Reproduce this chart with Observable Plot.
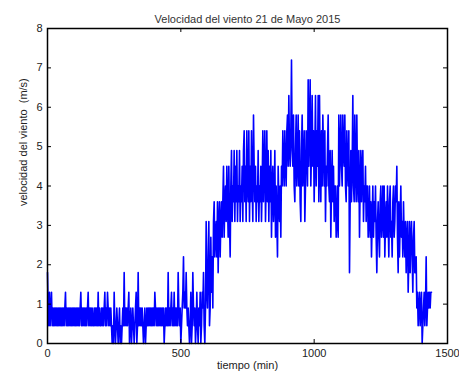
<!DOCTYPE html>
<html><head><meta charset="utf-8">
<script src="https://cdn.jsdelivr.net/npm/d3@7"></script>
<script src="https://cdn.jsdelivr.net/npm/@observablehq/plot@0.6"></script>
<style>body{margin:0;background:#fff;} svg{display:block;}</style>
</head><body><div id="chart"></div>
<script>
const title = "Velocidad del viento 21 de Mayo 2015";
const xLabel = "tiempo (min)";
const yLabel = "velocidad del viento  (m/s)";
const xTicks = [0, 500, 1000, 1500];
const yTicks = [0, 1, 2, 3, 4, 5, 6, 7, 8];
const sampleStepMin = 2.5;
// wind speed (m/s), one reading every 2.5 minutes, rows = hours 0..23
const speed = [
  1.8,0.9,0.45,1.3,0.45,0.9,1.3,0.45,0.9,0.45,0.9,0.45,0.9,0.45,0.9,0.45,0.9,0.45,0.9,0.45,0.9,0.45,0.9,0.45,
  0.9,0.45,0.9,1.3,0.45,0.9,0.45,0.9,0.45,0.9,0.45,0.9,0.45,0.9,0.45,0.9,0.45,0.9,0.45,0.9,0.45,0.9,0.45,0.9,
  0.45,0.9,1.3,0.45,0.9,0.45,0.9,0.45,0.9,0.45,0.9,0.45,0.9,1.3,0.45,0.9,0.45,0.9,0.45,0.9,0.45,0.45,0.9,0.45,
  0.9,0.45,0.9,0.45,1.3,0.45,0.9,0.45,0.45,0.9,0.45,0.9,0.45,0.9,1.3,0.45,0.9,0.45,1.3,0.9,0.45,0.9,0.45,0.9,
  0.45,0,0.45,0,1.3,0.45,0,0.45,0.9,0.45,0,0.45,0.9,0,0.45,0,0.45,0.9,0.45,1.8,0.45,0.9,0.45,0.9,
  0.45,0.9,1.3,0,0.45,0.9,0,0.45,0.9,0.45,0,0.45,0.9,1.3,0,0.45,1.8,0.45,0.9,0.45,0.9,0.45,0.9,0.45,
  0,0.45,0.9,0,0.45,0.9,0.45,0.9,0.45,0.9,0.45,0.9,0.45,0.9,0.45,0.9,0.45,1.3,0.9,0.45,0.9,0.45,0.9,0.45,
  0.9,0.45,0.9,0.45,0.9,0.45,0.9,0,0.45,0.9,0.45,0.9,0.45,1.8,0.45,0.9,0.45,0.9,1.3,0.45,0.9,0.45,1.3,0.45,
  0.9,0.45,0.9,0.45,1.8,0.9,0.45,0.9,0,0.45,0.9,1.3,2.2,0.9,1.3,0.9,1.8,0.9,0.45,0.9,0.45,0,0.45,1.3,
  0,0.45,1.8,0.9,0.45,0.9,0,0.45,1.3,0.45,0,0.9,0.45,1.3,0,0.45,1.3,0.9,1.8,0.45,0,0.9,3.1,1.3,
  0.9,2.2,3.1,0.45,0.9,2.7,1.3,2.2,0.9,3.1,3.6,2.2,2.7,3.1,2.2,3.6,1.8,3.1,3.6,2.2,3.1,3.6,2.7,3.6,
  4.5,2.7,3.6,4.0,3.1,4.5,3.6,2.7,4.5,3.1,2.2,4.0,4.9,3.1,4.0,3.6,4.9,3.1,4.5,3.6,4.9,3.1,4.0,3.6,
  4.9,3.1,4.0,3.6,4.5,3.1,4.9,5.4,3.6,4.5,3.1,5.4,4.0,3.6,5.4,3.1,4.5,3.6,5.4,4.0,3.1,5.8,4.5,3.6,
  4.5,3.1,4.0,3.6,4.9,3.1,4.0,3.6,4.5,3.1,4.0,5.4,3.6,4.5,5.4,3.1,4.0,5.4,3.6,4.9,3.1,4.5,3.6,4.9,
  2.7,4.0,4.5,3.1,3.6,4.9,2.7,4.0,3.1,2.2,4.5,3.6,3.1,4.0,2.7,4.5,4.0,5.4,4.5,4.0,5.4,4.5,4.0,5.4,
  5.8,4.5,6.3,4.9,4.5,5.4,7.2,4.9,4.5,5.8,4.0,3.6,4.9,5.8,4.0,4.5,5.8,4.0,5.4,3.6,3.1,4.9,5.8,4.0,
  4.5,5.4,3.1,4.0,5.4,4.9,4.0,6.7,4.5,5.4,6.7,4.0,4.9,6.3,4.5,5.4,3.6,4.9,6.3,4.0,5.4,4.5,6.3,3.6,
  6.3,4.5,3.6,5.4,4.0,5.8,4.9,4.0,5.4,3.1,4.5,4.0,4.9,5.8,4.0,3.6,4.9,2.7,4.0,4.9,3.6,4.5,3.1,4.0,
  4.0,2.7,3.1,4.0,2.7,5.8,4.0,4.9,5.8,4.5,4.0,5.8,4.9,4.5,5.8,4.0,3.6,5.4,4.5,4.0,5.4,1.8,3.6,4.9,
  3.6,4.5,6.3,4.0,3.6,5.8,4.5,3.6,5.8,4.0,3.6,4.9,2.7,4.0,4.9,3.6,4.5,4.9,3.1,4.0,3.6,4.5,3.1,4.0,
  4.0,2.7,3.1,4.0,2.7,3.6,2.2,3.1,4.0,2.7,3.6,3.1,4.0,2.7,1.8,3.1,3.6,2.7,2.2,3.6,4.0,2.7,3.1,4.0,
  2.7,4.0,2.2,3.1,3.6,2.7,4.0,3.1,2.2,3.6,4.0,2.7,3.1,2.2,3.6,4.0,2.7,3.1,4.0,3.6,4.5,2.7,1.8,3.6,
  2.2,3.1,4.0,2.7,3.1,2.2,3.6,2.7,2.2,3.1,1.8,2.7,3.1,1.3,2.2,3.1,1.8,2.7,3.1,2.2,1.3,2.7,3.1,1.8,
  1.8,2.2,0.9,1.3,0.45,0.9,1.3,0.45,0.9,1.3,0,0.45,0.9,1.3,0.45,0.9,2.2,0.45,0.9,1.3,0.9,1.3,0.9,1.3,
  1.3
];
const data = speed.map((v, i) => ({t: i * sampleStepMin, v}));

const W = 459, H = 375, mL = 47, mR = 12, mT = 28, mB = 32;
const fw = W - mL - mR, fh = H - mT - mB;
const tickLen = 4;
const font = "'Liberation Sans', Arial, sans-serif";

const plot = Plot.plot({
  width: W, height: H,
  marginLeft: mL, marginRight: mR, marginTop: mT, marginBottom: mB,
  style: {fontFamily: font, fontSize: "11px", color: "#222", background: "#fff"},
  x: {domain: [0, 1500], ticks: xTicks},
  y: {domain: [0, 8], ticks: yTicks},
  marks: [
    Plot.line(data, {x: "t", y: "v", stroke: "#0000ff", strokeWidth: 1.6}),
    Plot.tickX(xTicks, {x: d => d, insetTop: fh - tickLen, stroke: "#000"}),
    Plot.tickX(xTicks, {x: d => d, insetBottom: fh - tickLen, stroke: "#000"}),
    Plot.tickY(yTicks, {y: d => d, insetRight: fw - tickLen, stroke: "#000"}),
    Plot.tickY(yTicks, {y: d => d, insetLeft: fw - tickLen, stroke: "#000"}),
    Plot.frame({stroke: "#000", strokeWidth: 1.5}),
    Plot.axisX(xTicks, {tickSize: 0, tickPadding: 6, tickFormat: "d", label: null}),
    Plot.axisY(yTicks, {tickSize: 0, tickPadding: 5, tickFormat: "d", label: null}),
    Plot.text([title], {frameAnchor: "top", dy: -13, fontSize: 11, fill: "#333"}),
    Plot.text([xLabel], {frameAnchor: "bottom", dy: 25, fontSize: 11, fill: "#222"}),
    Plot.text([yLabel], {frameAnchor: "left", dx: -24, dy: 20, rotate: -90, fontSize: 11, fill: "#222"})
  ]
});
document.getElementById("chart").appendChild(plot);
</script>
</body></html>
